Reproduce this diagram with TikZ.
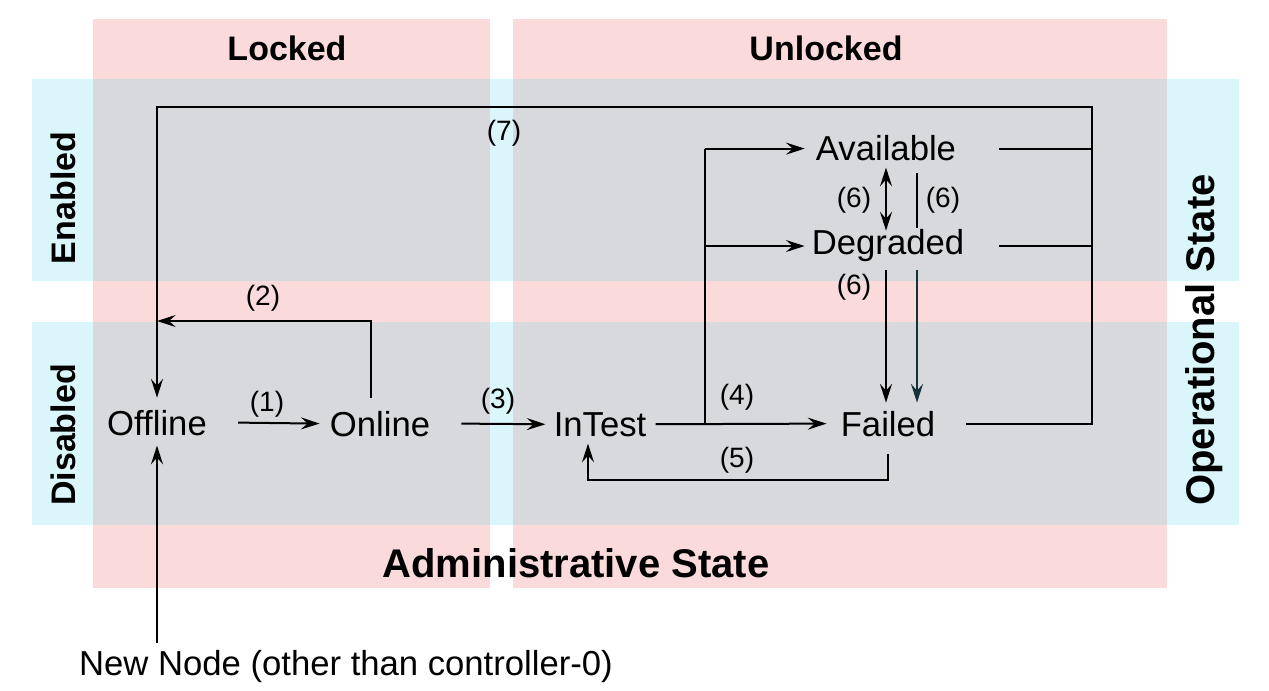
\documentclass[tikz,border=0pt]{standalone}
\usepackage{fontspec}
\setmainfont{Liberation Sans}
\usetikzlibrary{positioning, arrows.meta, calc}

\definecolor{lockpink}{RGB}{250,218,218}
\definecolor{enacyan}{RGB}{218,246,250}
\definecolor{overgray}{RGB}{216,217,221}
\definecolor{tealdark}{RGB}{20,50,55}

\begin{document}
\begin{tikzpicture}[
            x=0.75pt, y=-0.75pt,
            >={Stealth[length=14pt, width=9pt, inset=5pt]},
            state/.style={inner sep=0pt, anchor=base, font=\fontsize{26}{30}\selectfont},
            num/.style={inner sep=0pt, font=\fontsize{21}{24}\selectfont},
            head/.style={inner sep=0pt, font=\bfseries\fontsize{25.5}{30}\selectfont},
            bighead/.style={inner sep=0pt, font=\bfseries\fontsize{30}{36}\selectfont},
            arrow/.style={->, line width=1.5pt},
            wire/.style={line width=1.5pt},
            ]
            \useasboundingbox (0,0) rectangle (1269,691);

            % bands
            \fill[enacyan] (32,79) rectangle (1239,281);
            \fill[enacyan] (32,322) rectangle (1239,525);
            \fill[lockpink] (93,19) rectangle (490,588);
            \fill[lockpink] (513,19) rectangle (1167,588);
            \foreach \xa/\xb in {93/490, 513/1167}
                \foreach \ya/\yb in {79/281, 322/525}
                    \fill[overgray] (\xa,\ya) rectangle (\xb,\yb);

            \node[head] (locked) at (287,48) {Locked};
            \node[head] (unlocked) at (826,48) {Unlocked};
            \node[head, rotate=90] (enabled) at (63,198) {Enabled};
            \node[head, rotate=90] (disabled) at (63,435) {Disabled};
            \node[bighead, rotate=90] (opstate) at (1204,340) {Operational State};
            \node[bighead] (admstate) at (576,563) {Administrative State};

            % states
            \node[state] (offline) at (157,435) {Offline};
            \node[state] (online) at (380,436) {Online};
            \node[state] (intest) at (600,436) {InTest};
            \node[state] (failed) at (888,436) {Failed};
            \node[state] (available) at (886,161) {Available};
            \node[state] (degraded) at (888,255) {Degraded};
            \node[state] (newnode) at (346,675) {New Node (other than controller-0)};

            \coordinate (bus7) at (1092,107);
            \coordinate (rstub) at (999,0);
            \coordinate (turn2) at (371,321);
            \coordinate (split) at (705,0);
            \coordinate (loop5) at (700,480);
            \coordinate (side6) at (917,0);

            % (1) (3) (4)
            \draw[arrow] ($(offline.east)+(31,0)$) -- ($(online.west)+(-10,0)$);
            \draw[arrow] ($(online.east)+(31,0)$) -- ($(intest.west)+(-8,0)$);
            \draw[arrow] ($(intest.east)+(9,0)$) -- ($(failed.west)+(-14,0)$);
            \node[num] (lab1) at (267,404) {(1)};
            \node[num] (lab3) at (498,401) {(3)};
            \node[num] (lab4) at (737,397) {(4)};

            % (2)
            \draw[arrow] ($(online.north)+(-9,-13)$) |- (offline.north |- turn2);
            \node[num] (lab2) at (263,298) {(2)};

            % (7)
            \draw[arrow] ($(failed.east)+(31,0)$) -| (bus7) -| ($(offline.north)+(0,-12)$);
            \draw[wire] (available.east -| rstub) -- (available.east -| bus7);
            \draw[wire] (degraded.east -| rstub) -- (degraded.east -| bus7);
            \node[num] (lab7) at (504,133) {(7)};

            % branch to Available / Degraded
            \draw[wire] (intest.east -| split) -- (available.west -| split);
            \draw[arrow] (available.west -| split) -- ($(available.west)+(-11,0)$);
            \draw[arrow] (degraded.west -| split) -- ($(degraded.west)+(-7,0)$);

            % (5)
            \draw[arrow] ($(failed.south)+(0,17)$) |- (loop5) -| ($(intest.south)+(-12,7)$);
            \node[num] (lab5) at (737,460) {(5)};

            % (6)
            \draw[arrow, <->] ($(available.south)+(0,6)$) -- ($(available.south |- degraded.north)+(0,1)$);
            \draw[wire] ($(available.south -| side6)+(0,11)$) -- ($(degraded.north -| side6)+(0,-2)$);
            \draw[arrow] ($(degraded.south -| available.south)+(0,8)$) -- ($(failed.north -| available.south)+(0,-8)$);
            \draw[arrow, tealdark] ($(degraded.south -| side6)+(0,8)$) -- ($(failed.north -| side6)+(0,-8)$);
            \node[num] (lab6a) at (854,200) {(6)};
            \node[num] (lab6b) at (943,200) {(6)};
            \node[num] (lab6c) at (854,287) {(6)};

            % new node
            \draw[arrow] ($(newnode.north -| offline.south)+(0,-7)$) -- ($(offline.south)+(0,10)$);

\end{tikzpicture}
\end{document}
